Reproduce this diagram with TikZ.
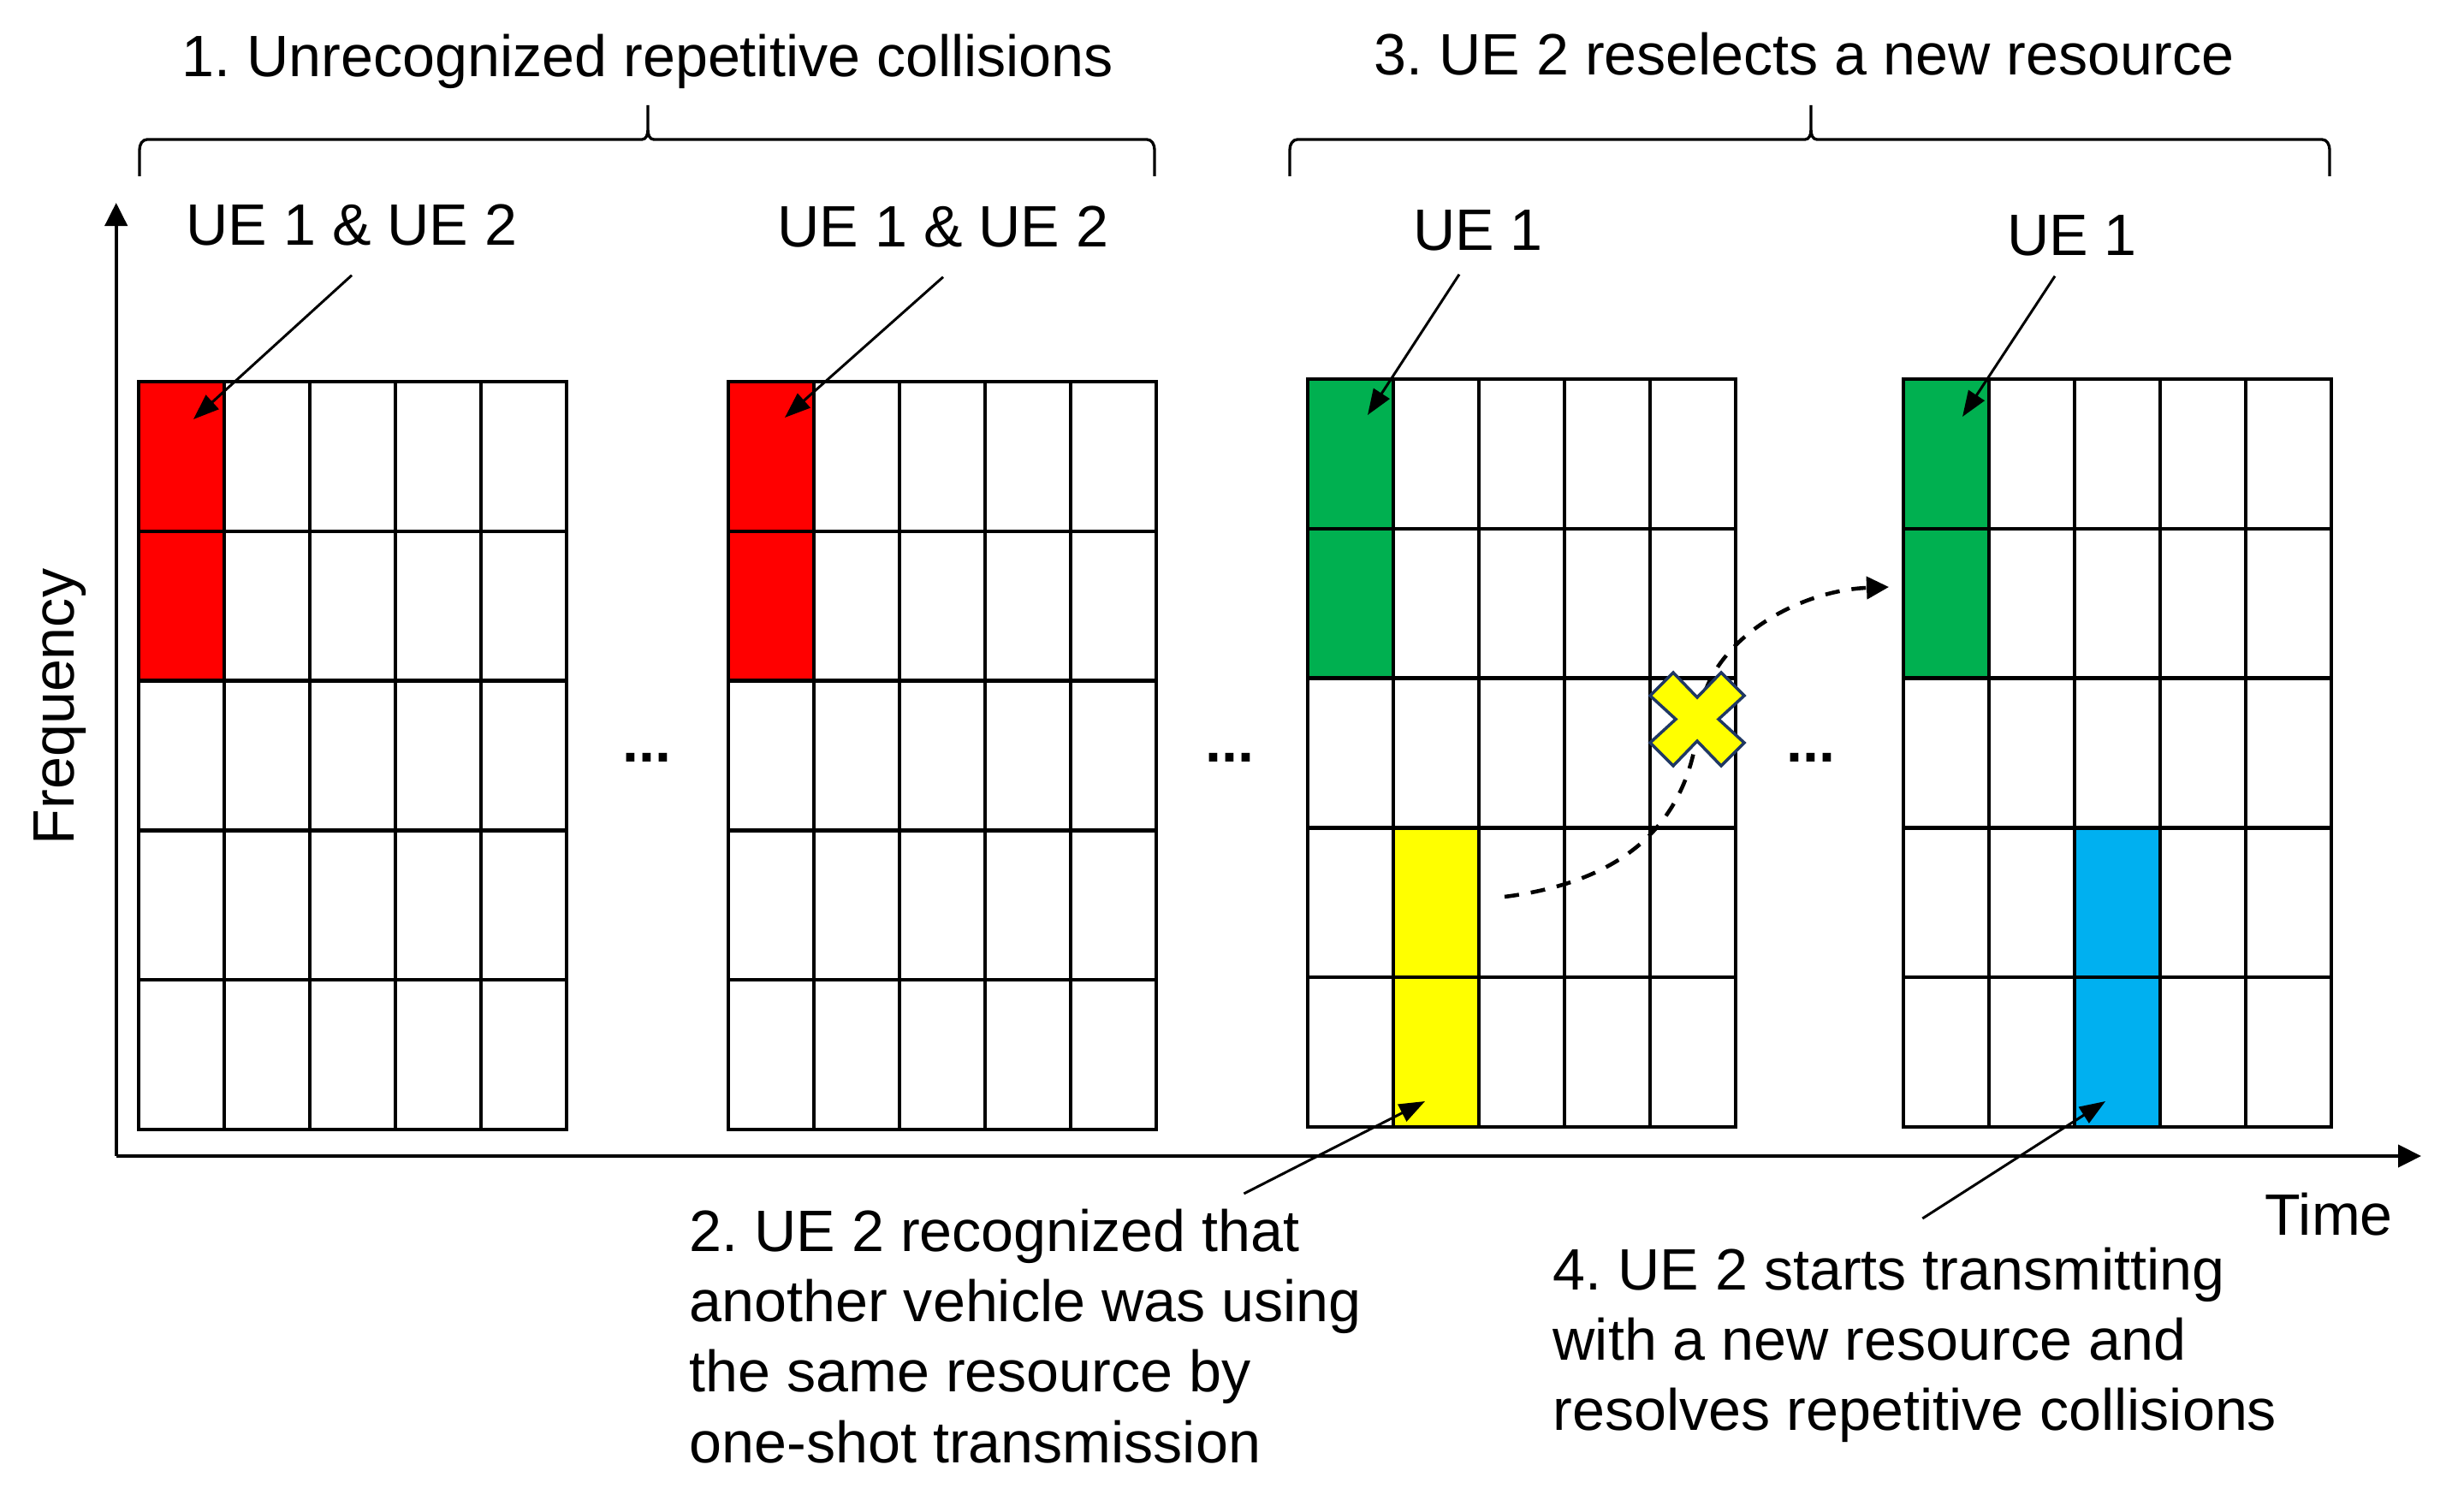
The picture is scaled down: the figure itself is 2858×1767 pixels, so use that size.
\documentclass[tikz,border=0pt]{standalone}
\usepackage{fontspec}
\setmainfont{Liberation Sans}
\usetikzlibrary{arrows.meta}
\frenchspacing

\definecolor{resred}{HTML}{FF0000}
\definecolor{resgreen}{HTML}{00B050}
\definecolor{resyellow}{HTML}{FFFF00}
\definecolor{resblue}{HTML}{00B0F0}
\definecolor{crossline}{HTML}{203864}

\tikzset{
  lbl/.style={inner sep=0pt,font=\fontsize{19.4}{23.4}\selectfont},
  uelbl/.style={lbl,anchor=base,outer sep=0.34cm},
  gapdots/.style={lbl,anchor=base,font=\fontsize{19.4}{23.4}\selectfont\bfseries},
  cell/.style={line width=1.2pt,line cap=rect,black},
  pointer/.style={line width=0.85pt,-{Triangle[length=0.3cm,width=0.22cm]}},
  axis/.style={line width=1.2pt,-{Triangle[length=0.27cm,width=0.26cm]}},
  bracket/.style={line width=0.95pt},
  reselect/.style={line width=1.3pt,dash pattern=on 0.17cm off 0.14cm,-{Triangle[length=0.26cm,width=0.26cm]}},
}

\begin{document}
\begin{tikzpicture}[x=0.01cm,y=-0.01cm]
\useasboundingbox (0,0) rectangle (2858,1767);

% used resources:
\fill[resred] (162,446) rectangle (262,796);
\fill[resred] (851,446) rectangle (951,796);
\fill[resgreen] (1528,443) rectangle (1628,792);
\fill[resyellow] (1628,967) rectangle (1728,1316);
\fill[resgreen] (2224,443) rectangle (2324,792);
\fill[resblue] (2424,967) rectangle (2524,1316);

% resource grids:
\foreach \gx/\gy in {162/446,851/446,1528/443,2224/443}{
  \foreach \i in {0,...,5}{
    \draw[cell] (\gx+\i*100,\gy) -- (\gx+\i*100,\gy+874);
    \draw[cell] (\gx,\gy+\i*174.8) -- (\gx+500,\gy+\i*174.8);
  }
}

% axes:
\coordinate (origin) at (135.7,1351);
\coordinate (ftop) at (135.7,237);
\coordinate (tend) at (2829,1351);
\draw[axis] (origin) -- (ftop);
\draw[axis] (origin) -- (tend);
\node[lbl,rotate=90] (freq) at (70,826) {Frequency};
\node[lbl,anchor=base west] (time) at (2646,1443) {Time};

% braces:
\draw[bracket] (163,206) -- (163,175) to[out=90,in=180] (172,163) -- (750,163) to[out=0,in=-90] (757,152) -- (757,123);
\draw[bracket] (757,152) to[out=-90,in=180] (764,163) -- (1340,163) to[out=0,in=90] (1349,175) -- (1349,206);
\draw[bracket] (1507,206) -- (1507,175) to[out=90,in=180] (1516,163) -- (2109,163) to[out=0,in=-90] (2116,152) -- (2116,123);
\draw[bracket] (2116,152) to[out=-90,in=180] (2123,163) -- (2713,163) to[out=0,in=90] (2722,175) -- (2722,206);
\node[lbl,anchor=base] (step1) at (757,90) {1. Unrecognized repetitive collisions};
\node[lbl,anchor=base] (step3) at (2108,88) {3. UE 2 reselects a new resource};

% labels and pointers:
\node[uelbl] (ueA) at (411,287) {UE 1 \& UE 2};
\node[uelbl] (ueB) at (1102,289) {UE 1 \& UE 2};
\node[uelbl] (ueC) at (1727,293) {UE 1};
\node[uelbl] (ueD) at (2421,299) {UE 1};
\node[lbl,anchor=north west,align=left] (step2) at (805,1412) {2. UE 2 recognized that\\another vehicle was using\\the same resource by\\one-shot transmission};
\node[lbl,anchor=north west,align=left] (step4) at (1814,1457) {4. UE 2 starts transmitting\\with a new resource and\\resolves repetitive collisions};

\coordinate (tipA) at (226,490);
\coordinate (tipB) at (917,488);
\coordinate (tipC) at (1598,485);
\coordinate (tipD) at (2293,487);
\coordinate (tipE) at (1665,1287);
\coordinate (tipF) at (2460,1287);
\draw[pointer] (ueA.south) -- (tipA);
\draw[pointer] (ueB.south) -- (tipB);
\draw[pointer] ([xshift=-0.22cm,yshift=0.07cm]ueC.south) -- (tipC);
\draw[pointer] ([xshift=-0.2cm,yshift=0.11cm]ueD.south) -- (tipD);
\draw[pointer] ([xshift=6.48cm,yshift=0.17cm]step2.north west) -- (tipE);
\draw[pointer] ([xshift=4.32cm,yshift=0.33cm]step4.north west) -- (tipF);

% gaps in time:
\node[gapdots] (gap1) at (756,890) {...};
\node[gapdots] (gap2) at (1437,890) {...};
\node[gapdots] (gap3) at (2116,890) {...};

% reselection:
\coordinate (oldres) at (1758,1048);
\coordinate (newres) at (2207,686);
\draw[reselect] (oldres) .. controls (1900,1030) and (1975,960) .. (1985,840) .. controls (1993,750) and (2100,690) .. (newres);
\filldraw[fill=resyellow,draw=crossline,line width=1pt] (1955,786) -- (1983,815) -- (2011,786) -- (2038,813) -- (2008,840.5) -- (2038,868) -- (2011,895) -- (1983,866) -- (1955,895) -- (1928,868) -- (1958,840.5) -- (1928,813) -- cycle;

\end{tikzpicture}
\end{document}
